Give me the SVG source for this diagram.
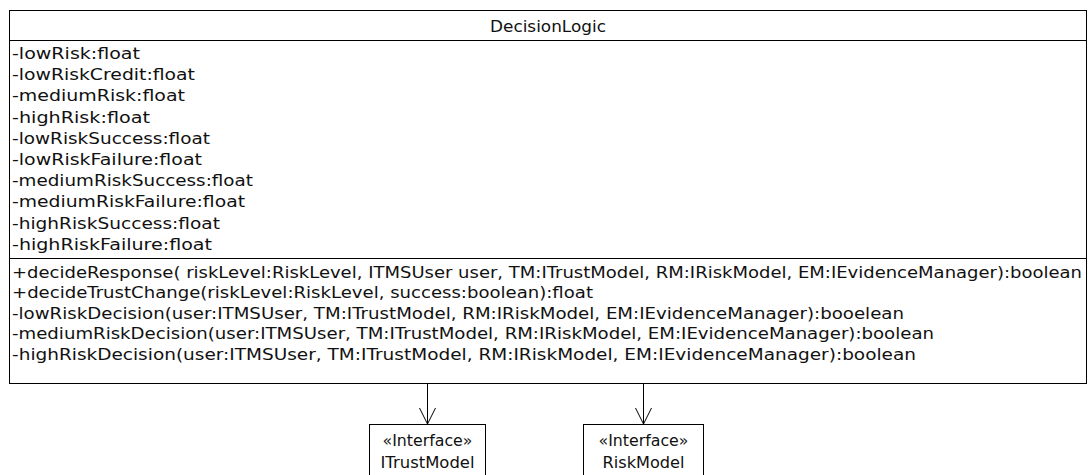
<svg xmlns="http://www.w3.org/2000/svg" width="1089" height="475" viewBox="0 0 1089 475">
<style>
.bg{fill:#ffffff}
.box{fill:#ffffff;stroke:#000000;stroke-width:1}
.div{stroke:#000000;stroke-width:1}
.t{font-family:"DejaVu Sans","Open Sans",sans-serif;font-size:15.5px;fill:#111111}
.c{text-anchor:middle}
.edge{fill:none;stroke:#000000;stroke-width:1}
</style>
<defs>
<marker id="open" viewBox="0 0 20 20" refX="16" refY="10" markerWidth="20" markerHeight="20" markerUnits="userSpaceOnUse" orient="auto">
<path d="M0,2 L16,10 L0,18" fill="none" stroke="#000000" stroke-width="1"/>
</marker>
</defs>
<rect class="bg" x="0" y="0" width="1089" height="475"/>
<g id="DecisionLogic">
<rect class="box" x="9.5" y="10.5" width="1077" height="373"/>
<line class="div" x1="9.5" y1="40.5" x2="1086.5" y2="40.5"/>
<line class="div" x1="9.5" y1="258.5" x2="1086.5" y2="258.5"/>
<text class="t c" x="548" y="32" textLength="116" lengthAdjust="spacingAndGlyphs">DecisionLogic</text>
<text class="t" x="12" y="59" textLength="128" lengthAdjust="spacingAndGlyphs">-lowRisk:float</text>
<text class="t" x="12" y="80.2" textLength="183" lengthAdjust="spacingAndGlyphs">-lowRiskCredit:float</text>
<text class="t" x="12" y="101.4" textLength="173" lengthAdjust="spacingAndGlyphs">-mediumRisk:float</text>
<text class="t" x="12" y="122.6" textLength="138" lengthAdjust="spacingAndGlyphs">-highRisk:float</text>
<text class="t" x="12" y="143.8" textLength="198" lengthAdjust="spacingAndGlyphs">-lowRiskSuccess:float</text>
<text class="t" x="12" y="165" textLength="190" lengthAdjust="spacingAndGlyphs">-lowRiskFailure:float</text>
<text class="t" x="12" y="186.2" textLength="241" lengthAdjust="spacingAndGlyphs">-mediumRiskSuccess:float</text>
<text class="t" x="12" y="207.4" textLength="233" lengthAdjust="spacingAndGlyphs">-mediumRiskFailure:float</text>
<text class="t" x="12" y="228.6" textLength="208" lengthAdjust="spacingAndGlyphs">-highRiskSuccess:float</text>
<text class="t" x="12" y="249.8" textLength="200" lengthAdjust="spacingAndGlyphs">-highRiskFailure:float</text>
<text class="t" x="12" y="277.5" textLength="1070" lengthAdjust="spacingAndGlyphs">+decideResponse( riskLevel:RiskLevel, ITMSUser user, TM:ITrustModel, RM:IRiskModel, EM:IEvidenceManager):boolean</text>
<text class="t" x="12" y="298" textLength="581" lengthAdjust="spacingAndGlyphs">+decideTrustChange(riskLevel:RiskLevel, success:boolean):float</text>
<text class="t" x="12" y="318.5" textLength="892" lengthAdjust="spacingAndGlyphs">-lowRiskDecision(user:ITMSUser, TM:ITrustModel, RM:IRiskModel, EM:IEvidenceManager):booelean</text>
<text class="t" x="12" y="339" textLength="922" lengthAdjust="spacingAndGlyphs">-mediumRiskDecision(user:ITMSUser, TM:ITrustModel, RM:IRiskModel, EM:IEvidenceManager):boolean</text>
<text class="t" x="12" y="359.5" textLength="904" lengthAdjust="spacingAndGlyphs">-highRiskDecision(user:ITMSUser, TM:ITrustModel, RM:IRiskModel, EM:IEvidenceManager):boolean</text>
</g>
<g id="ITrustModel">
<rect class="box" x="369.5" y="424.5" width="116" height="60"/>
<text class="t c" x="427.5" y="446" textLength="90" lengthAdjust="spacingAndGlyphs">«Interface»</text>
<text class="t c" x="427.5" y="468" textLength="94" lengthAdjust="spacingAndGlyphs">ITrustModel</text>
</g>
<g id="RiskModel">
<rect class="box" x="583.5" y="424.5" width="120" height="60"/>
<text class="t c" x="643.5" y="446" textLength="90" lengthAdjust="spacingAndGlyphs">«Interface»</text>
<text class="t c" x="643.5" y="468" textLength="82" lengthAdjust="spacingAndGlyphs">RiskModel</text>
</g>
<g id="connectors">
<line class="edge" x1="427.5" y1="383.5" x2="427.5" y2="424" marker-end="url(#open)"/>
<line class="edge" x1="643.5" y1="383.5" x2="643.5" y2="424" marker-end="url(#open)"/>
</g>
</svg>
